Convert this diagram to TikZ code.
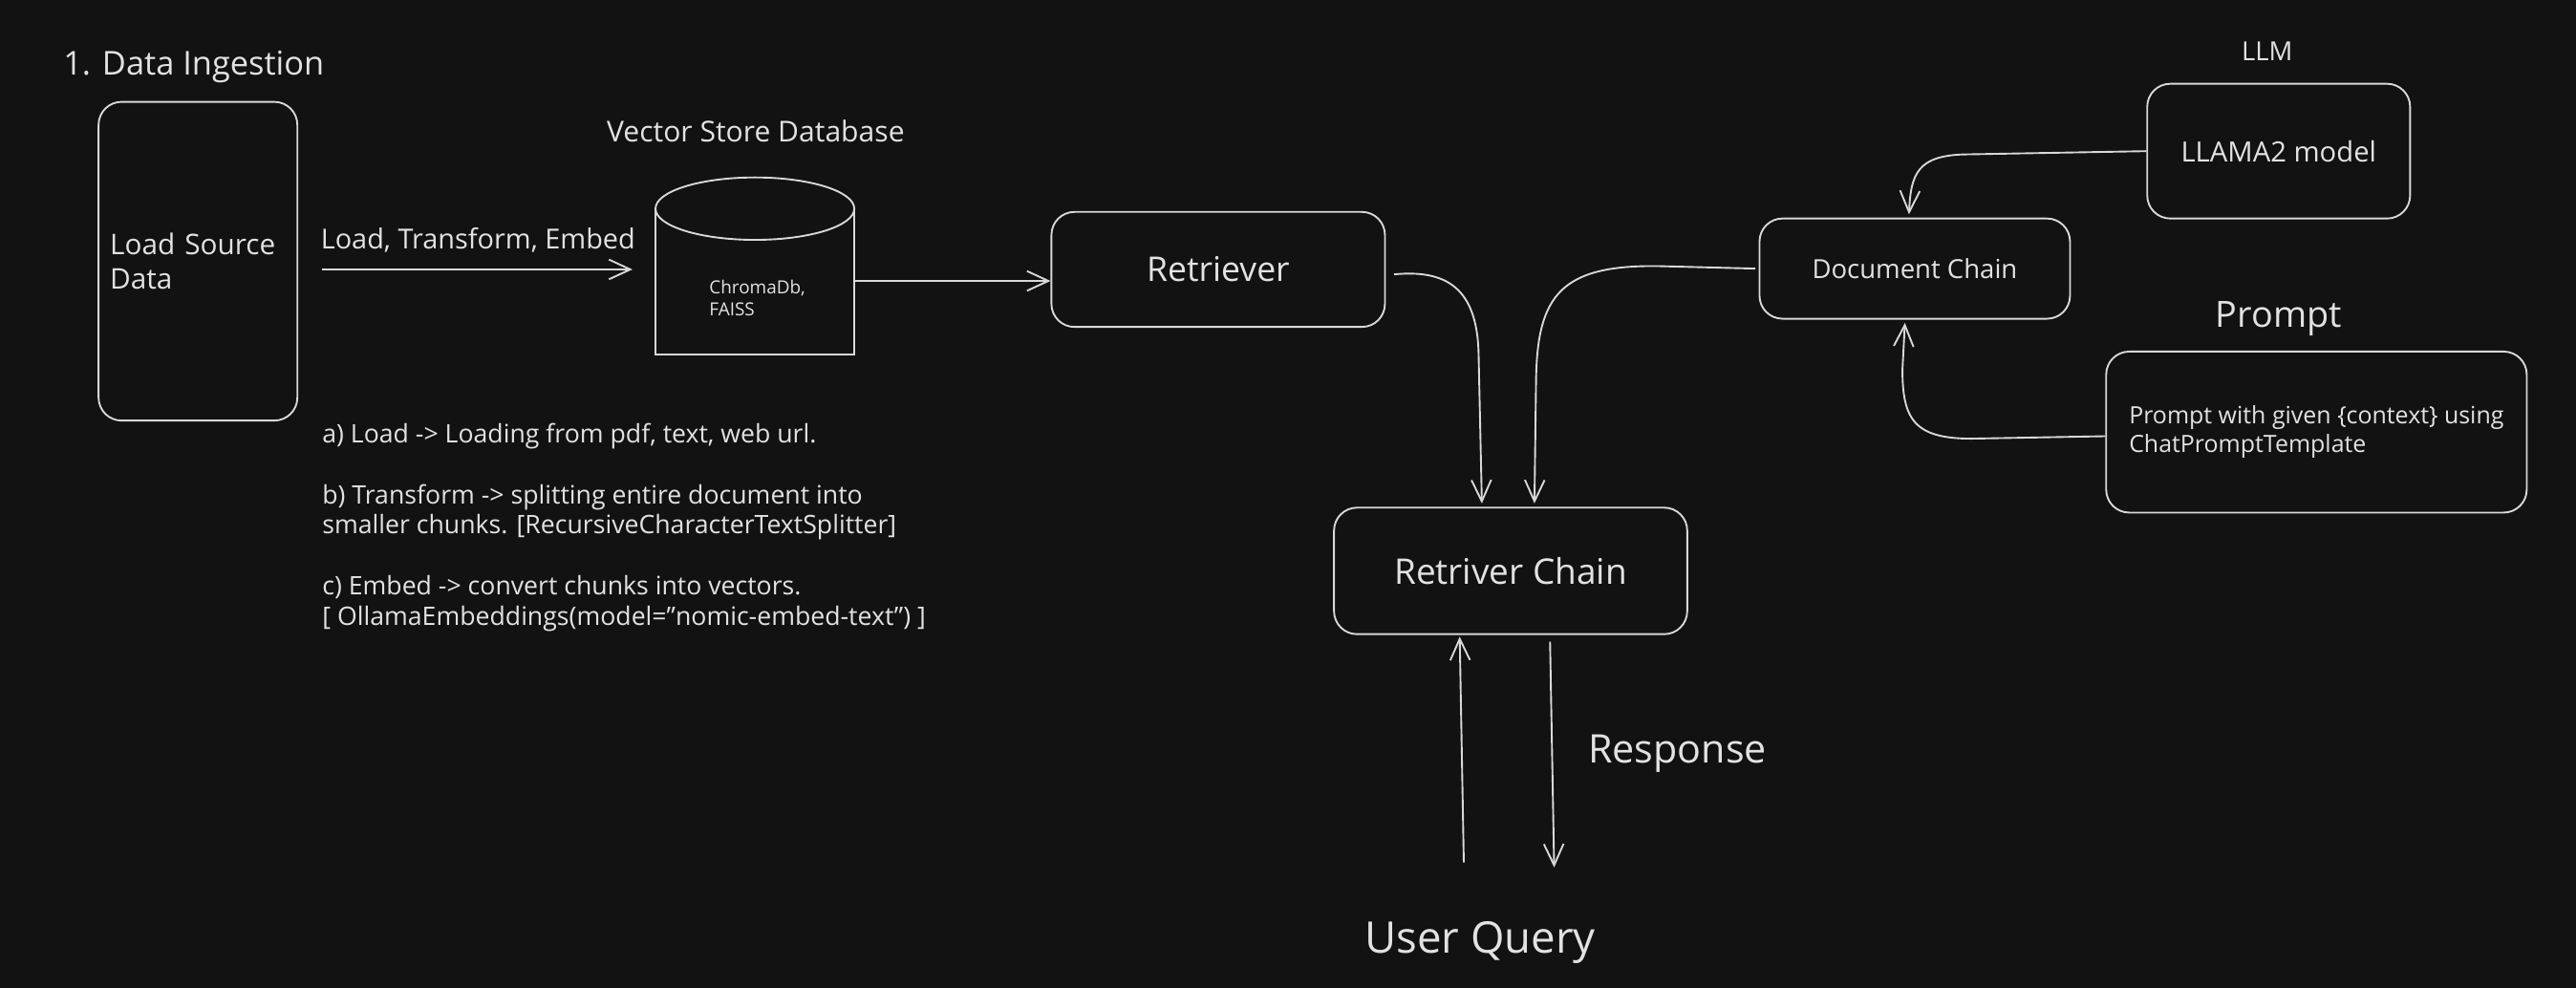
\documentclass[tikz,border=0pt]{standalone}
\usepackage{fontspec}
\setmainfont{Open Sans}
\usetikzlibrary{arrows.meta}
\definecolor{bgc}{HTML}{121212}
\definecolor{ink}{HTML}{D8D8D8}
\definecolor{txt}{HTML}{E2E2E2}
\begin{document}
\begin{tikzpicture}[x=1pt,y=-1pt,
  every node/.style={text=txt},
  box/.style={draw=ink, line width=1.1pt, rounded corners=14pt, inner sep=0pt},
  conn/.style={draw=ink, line width=1.1pt},
  arr/.style={conn, -{Straight Barb[length=13pt,width=12pt]}}
]
\useasboundingbox (0,0) rectangle (1568,601);
\fill[bgc] (-3,-3) rectangle (1571,604);

% titles
\node[anchor=west, font=\fontsize{20}{24}\selectfont] (title) at (35,41) {1. Data Ingestion};
\node[font=\fontsize{17.5}{21}\selectfont] (vsd) at (460,80) {Vector Store Database};
\node[font=\fontsize{16}{20}\selectfont] (llmlab) at (1380,31) {LLM};
\node[font=\fontsize{22}{26}\selectfont] (prlab) at (1387,194) {Prompt};

% load source box
\node[box, minimum width=121pt, minimum height=194pt, text width=107pt, align=left,
      font=\fontsize{17.3}{21}\selectfont] (load) at (120.5,159) {Load Source\\Data};

% load arrow
\coordinate (la) at (196,164);
\coordinate (lb) at (385,164);
\draw[arr] (la) -- (lb);
\node[font=\fontsize{16.8}{20}\selectfont] (lbl) at (291,146) {Load, Transform, Embed};

% cylinder
\draw[conn] (399,127) -- (399,216) -- (520,216) -- (520,127);
\draw[conn] (459.5,127) ellipse [x radius=60.5, y radius=19];
\node[inner sep=0pt, minimum width=121pt, minimum height=89pt] (db) at (459.5,171) {};
\node[align=left, font=\fontsize{11}{13}\selectfont] (dbt) at (461,181.5) {ChromaDb,\\FAISS};

% notes
\node[anchor=north west, align=left, inner sep=0pt, font=\fontsize{15.5}{18.5}\selectfont] (notes) at (196,257.5)
{a) Load -> Loading from pdf, text, web url.\\[18.5pt]
b) Transform -> splitting entire document into\\
smaller chunks. {[}RecursiveCharacterTextSplitter{]}\\[18.5pt]
c) Embed -> convert chunks into vectors.\\
{[} OllamaEmbeddings(model="nomic-embed-text") {]}};

% main boxes
\node[box, minimum width=203pt, minimum height=70pt, font=\fontsize{20.7}{24}\selectfont] (ret) at (741.5,164) {Retriever};
\node[box, minimum width=189pt, minimum height=61pt, font=\fontsize{16}{20}\selectfont] (dc) at (1165.5,163.5) {Document Chain};
\node[box, minimum width=160pt, minimum height=82pt, font=\fontsize{17}{21}\selectfont] (llm) at (1387,92) {LLAMA2 model};
\node[box, minimum width=256pt, minimum height=98pt, align=left, font=\fontsize{14.5}{17.5}\selectfont] (pr) at (1410,263)
{Prompt with given \{context\} using\\ChatPromptTemplate};
\node[box, minimum width=215pt, minimum height=77pt, font=\fontsize{21.5}{25}\selectfont] (rc) at (919.5,347.5) {Retriver Chain};

% connectors
\draw[arr] (db.east) -- (db.east -| ret.west);
\coordinate (r1) at ([xshift=5pt,yshift=-3pt]ret.east);
\draw[arr] (r1) .. controls (880,164) and (899,175) .. (900,215) -- ([xshift=-17.5pt,yshift=2pt]rc.north);
\draw[arr] ([xshift=-2pt]dc.west) -- (1010,162) .. controls (950,161) and (936,180) .. (935,230) -- ([xshift=14.5pt,yshift=2pt]rc.north);
\draw[arr] (llm.west) -- (1195,94) .. controls (1168,95) and (1163,105) .. ([xshift=-3.5pt,yshift=2pt]dc.north);
\draw[arr] ([yshift=-2.5pt]pr.west) -- (1200,267) .. controls (1165,267) and (1158,255) .. (1158,225) -- ([xshift=-6pt,yshift=-2pt]dc.south);

% query / response
\coordinate (q0) at (891,525);
\draw[arr] (q0) -- ([xshift=-31pt,yshift=-1pt]rc.south);
\coordinate (r0) at (946,528);
\draw[arr] ([xshift=24pt,yshift=-4pt]rc.south) -- (r0);
\node[font=\fontsize{24}{28}\selectfont] (resp) at (1021,459) {Response};
\node[font=\fontsize{26.5}{30}\selectfont] (uq) at (901,574) {User Query};
\end{tikzpicture}
\end{document}
